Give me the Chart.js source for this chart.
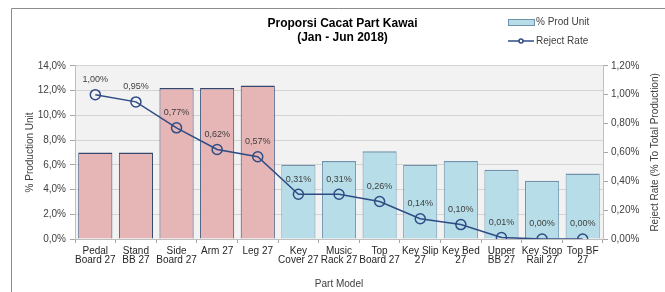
<!DOCTYPE html>
<html>
<head>
<meta charset="utf-8">
<script src="https://cdn.jsdelivr.net/npm/chart.js@4.4.0/dist/chart.umd.min.js"></script>
<style>
  html, body { margin: 0; padding: 0; background: #fff; }
</style>
</head>
<body>
<canvas id="mychart" width="665" height="292"></canvas>
<script>
// data
const partModels = [
  ['Pedal', 'Board 27'], ['Stand', 'BB 27'], ['Side', 'Board 27'], 'Arm 27', 'Leg 27',
  ['Key', 'Cover 27'], ['Music', 'Rack 27'], ['Top', 'Board 27'], ['Key Slip', '27'],
  ['Key Bed', '27'], ['Upper', 'BB 27'], ['Key Stop', 'Rail 27'], ['Top BF', '27']
];
const prodUnit = [7.0, 7.0, 12.2, 12.2, 12.4, 6.0, 6.3, 7.1, 6.0, 6.3, 5.6, 4.7, 5.3];
const rejectRate = [1.00, 0.95, 0.77, 0.62, 0.57, 0.31, 0.31, 0.26, 0.14, 0.10, 0.01, 0.00, 0.00];
const leftAxis = { min: 0, max: 14, step: 2 };
const rightAxis = { min: 0, max: 1.2, step: 0.2 };
const titleLines = ['Proporsi Cacat Part Kawai', '(Jan - Jun 2018)'];

const pink = '#e6b5b6', pinkEdge = '#33476e';
const blue = '#b7dde8', blueEdge = '#6f93ad';
const lineCol = '#2f4c85';

const comma = (v, d) => v.toFixed(d).replace('.', ',') + '%';

Chart.defaults.font.family = '"Liberation Sans", Arial, sans-serif';
Chart.defaults.font.size = 10;
Chart.defaults.color = '#404040';

const chartBg = {
  id: 'chartBg',
  beforeDraw(chart) {
    const { ctx, chartArea: a } = chart;
    ctx.save();
    ctx.fillStyle = '#fff';
    ctx.fillRect(0, 0, chart.width, chart.height);
    ctx.fillStyle = '#f2f2f2';
    ctx.fillRect(a.left, a.top, a.right - a.left, a.bottom - a.top);
    ctx.strokeStyle = '#8c8c8c';
    ctx.lineWidth = 1;
    ctx.beginPath();
    ctx.moveTo(11.5, chart.height);
    ctx.lineTo(11.5, 8.5);
    ctx.lineTo(chart.width, 8.5);
    ctx.stroke();
    ctx.restore();
  }
};

const pointLabels = {
  id: 'pointLabels',
  afterDatasetsDraw(chart) {
    const { ctx } = chart;
    const meta = chart.getDatasetMeta(1);
    ctx.save();
    ctx.font = '9px "Liberation Sans", Arial, sans-serif';
    ctx.fillStyle = '#404040';
    ctx.textAlign = 'center';
    ctx.textBaseline = 'middle';
    meta.data.forEach((pt, i) => {
      ctx.fillText(comma(rejectRate[i], 2), pt.x, pt.y - 15);
    });
    ctx.restore();
  }
};

const extras = {
  id: 'extras',
  afterDraw(chart) {
    const { ctx, chartArea: a } = chart;
    ctx.save();
    // right axis title, reading bottom to top
    ctx.font = '10px "Liberation Sans", Arial, sans-serif';
    ctx.fillStyle = '#404040';
    ctx.textAlign = 'center';
    ctx.textBaseline = 'middle';
    ctx.translate(655, (a.top + a.bottom) / 2);
    ctx.rotate(-Math.PI / 2);
    ctx.fillText('Reject Rate (% To Total Production)', 0, 0);
    ctx.restore();

    // legend
    const ds = chart.data.datasets;
    ctx.save();
    ctx.font = '10px "Liberation Sans", Arial, sans-serif';
    ctx.textBaseline = 'middle';
    ctx.fillStyle = blue;
    ctx.fillRect(508, 19, 26, 6);
    ctx.strokeStyle = blueEdge;
    ctx.lineWidth = 1;
    ctx.strokeRect(508.5, 19.5, 26, 6);
    ctx.fillStyle = '#404040';
    ctx.fillText(ds[0].label, 536, 22);
    ctx.strokeStyle = lineCol;
    ctx.lineWidth = 1.5;
    ctx.beginPath();
    ctx.moveTo(508, 41);
    ctx.lineTo(534, 41);
    ctx.stroke();
    ctx.beginPath();
    ctx.arc(521, 41, 2, 0, Math.PI * 2);
    ctx.fillStyle = '#fff';
    ctx.fill();
    ctx.stroke();
    ctx.fillStyle = '#404040';
    ctx.fillText(ds[1].label, 536, 41);
    ctx.restore();
  }
};

const ctx = document.getElementById('mychart').getContext('2d');
const mychart = new Chart(ctx, {
  type: 'bar',
  data: {
    labels: partModels,
    datasets: [
      {
        type: 'bar',
        label: '% Prod Unit',
        data: prodUnit,
        yAxisID: 'y',
        backgroundColor: rejectRate.map(r => r >= 0.5 ? pink : blue),
        borderColor: rejectRate.map(r => r >= 0.5 ? pinkEdge : blueEdge),
        borderWidth: { top: 1.5, left: 1, right: 1, bottom: 0 },
        categoryPercentage: 1,
        barPercentage: 0.84,
        order: 2
      },
      {
        type: 'line',
        label: 'Reject Rate',
        data: rejectRate,
        yAxisID: 'y1',
        borderColor: lineCol,
        borderWidth: 1.5,
        pointRadius: 5,
        pointBorderWidth: 1.5,
        pointBackgroundColor: 'rgba(0,0,0,0)',
        pointBorderColor: lineCol,
        tension: 0,
        order: 1
      }
    ]
  },
  options: {
    responsive: false,
    animation: false,
    devicePixelRatio: 1,
    layout: { padding: { left: 20, right: 0, top: 0, bottom: 0 } },
    plugins: {
      legend: { display: false },
      tooltip: { enabled: false },
      title: {
        display: true,
        text: titleLines,
        font: { size: 12, weight: 'bold' },
        color: '#000',
        lineHeight: 1.35,
        padding: { top: 16, bottom: 21 }
      }
    },
    scales: {
      x: {
        offset: true,
        grid: {
          offset: true,
          drawOnChartArea: false,
          tickLength: 4,
          color: '#a6a6a6'
        },
        border: { display: true, color: '#bfbfbf' },
        ticks: {
          autoSkip: false,
          maxRotation: 0,
          padding: 3,
          font: { size: 10, lineHeight: 0.95 },
          color: '#262626'
        },
        title: {
          display: true,
          text: 'Part Model',
          font: { size: 10 },
          padding: { top: 0, bottom: 2 },
          color: '#404040'
        },
        afterFit(scale) { scale.height = 53; }
      },
      y: {
        position: 'left',
        min: leftAxis.min,
        max: leftAxis.max,
        ticks: {
          stepSize: leftAxis.step,
          padding: 4,
          callback: v => comma(v, 1)
        },
        grid: { color: '#d4d4d4', tickLength: 5, tickColor: '#a6a6a6' },
        border: { display: true, color: '#bfbfbf' },
        title: {
          display: true,
          text: '% Production Unit',
          font: { size: 10 },
          padding: { top: 4, bottom: 0 }
        },
        afterFit(scale) { scale.width = 55; }
      },
      y1: {
        position: 'right',
        min: rightAxis.min,
        max: rightAxis.max,
        ticks: {
          stepSize: rightAxis.step,
          padding: 3,
          callback: v => comma(v, 2)
        },
        grid: { drawOnChartArea: false, tickLength: 5, color: '#a6a6a6' },
        border: { display: true, color: '#bfbfbf' },
        afterFit(scale) { scale.width = 62; }
      }
    }
  },
  plugins: [chartBg, pointLabels, extras]
});
</script>
</body>
</html>
